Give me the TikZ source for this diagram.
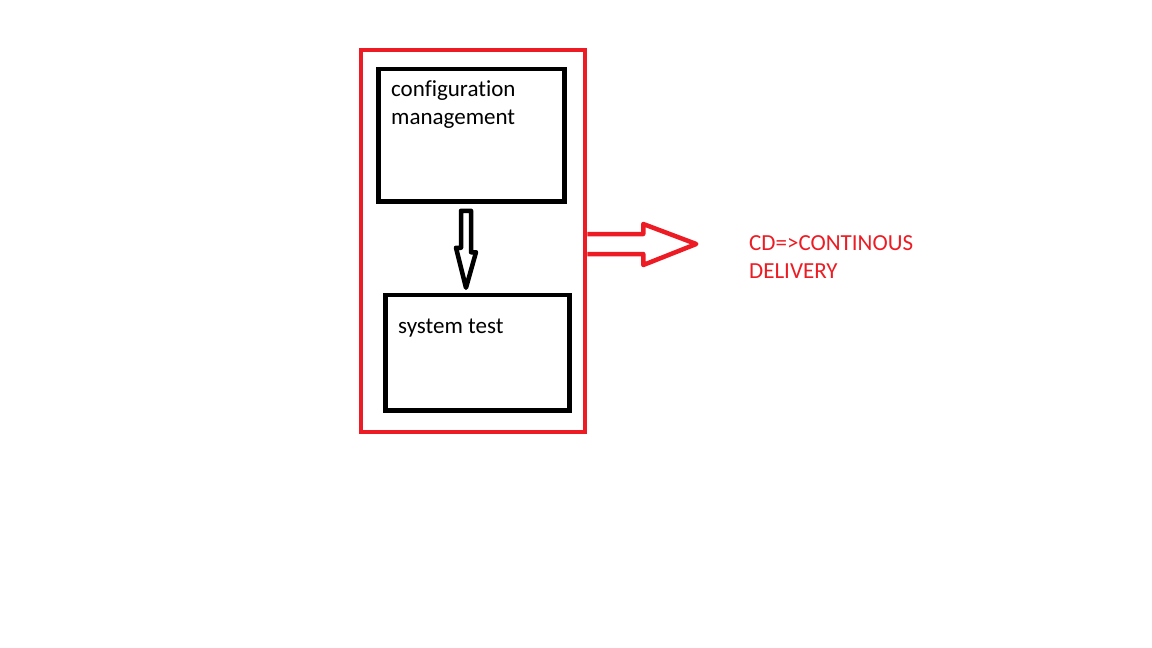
\documentclass[tikz,border=0pt]{standalone}
\usepackage{fontspec}
\setmainfont{Carlito}[Ligatures=NoCommon]
\definecolor{paintred}{RGB}{237,28,36}
\tikzset{
  box/.style={draw, rectangle, line width=4.5pt, inner sep=0pt},
  redbox/.style={box, draw=paintred},
  boxtext/.style={anchor=base west, inner sep=0pt, align=left,
    font=\fontsize{23}{28}\selectfont},
  fatarrow/.style={line width=4.5pt, line join=round}
}
\begin{document}
\begin{tikzpicture}[x=1pt,y=-1pt]
\useasboundingbox[fill=white] (0,0) rectangle (1152,648);

\node[redbox, minimum width=224pt, minimum height=382pt] (frame) at (473,241) {};
\node[box, minimum width=186pt, minimum height=132.5pt] (cm) at (471.5,135.25) {};
\node[box, minimum width=184pt, minimum height=115.5pt] (st) at (477.5,352.75) {};

% base of a two line node is the last line
\node[boxtext] (cmtext) at (391,124) {configuration\\management};
\node[boxtext] (sttext) at (398,333) {system test};
\node[boxtext, text=paintred] (cdtext) at (749,278) {CD=>CONTINOUS\\DELIVERY};

% arrow from config management down to system test
\coordinate (down) at (cm.south -| 466,0);
\coordinate (tip) at (st.north -| down);
\draw[fatarrow] ([shift={(-5,7)}]down) -- ++(10,0) -- ++(0,41.5) -- ++(5,0)
  -- ([shift={(0,-5)}]tip) -- ++(-10,-40) -- ++(5,0) -- cycle;

% arrow out of the frame to the label
\coordinate (out) at (frame.east |- 0,244);
\draw[fatarrow, draw=paintred] ([shift={(0,-10)}]out) -- ++(56,0) -- ++(0,-10)
  -- ++(53,20) -- ++(-53,21) -- ++(0,-11) -- ([shift={(0,10)}]out);
\end{tikzpicture}
\end{document}
